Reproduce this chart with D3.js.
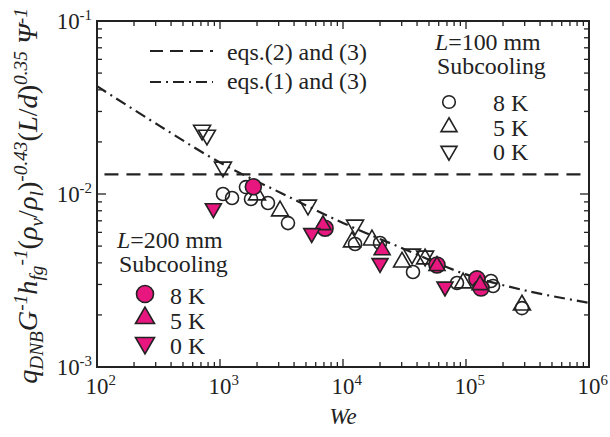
<!DOCTYPE html>
<html lang="en">
<head>
<meta charset="UTF-8">
<title>qDNB vs We</title>
<style>
    body{margin:0;background:#fff;}
    svg{display:block;}
</style>
<script src="https://cdn.jsdelivr.net/npm/d3@7"></script>
</head>
<body>
<script>
// L=100 mm (open symbols), [We, value]
const l100_8K = [[1057,0.0100],[1253,0.00948],[1625,0.01096],[1786,0.00935],[2455,0.00887],[3570,0.00679],
    [12530,0.00514],[20000,0.00521],[37070,0.00354],[84500,0.00306],[159600,0.00314],[166000,0.00294],[285000,0.00219]]
const l100_5K = [[2000,0.00987],[3077,0.00798],[11830,0.00528],[17200,0.00542],[30200,0.00404],[46500,0.00421],
    [94700,0.00306],[285000,0.00228]]
const l100_0K = [[715,0.0234],[783,0.0219],[1057,0.01432],[5190,0.00863],[12530,0.00662],[36400,0.00450],[46500,0.00438]]
// L=200 mm (filled symbols)
const l200_8K = [[1866,0.01101],[7150,0.00634],[58100,0.00389],[122700,0.00323],[132500,0.00286]]
const l200_5K = [[6870,0.00662],[20800,0.00474],[58100,0.00384],[130000,0.00298]]
const l200_0K = [[883,0.00826],[5570,0.00593],[20000,0.00398],[67500,0.00291]]
// eqs.(2) and (3): constant level
const eq23X = [115,1000000]
const eq23Y = 0.013
// eqs.(1) and (3)
const eq13X = [100,316,1000,3162,10000,31623,100000,316228,1000000]
const eq13Y = [0.042,0.025,0.0152,0.0101,0.0068,0.0048,0.00343,0.00275,0.00235]

const width = 610, height = 437
const pink = "#e8177f", ink = "#222"

// pick a Times-like face if there is one, then scale text so widths match the figure
function hasFont(f) {
    const c = document.createElement("canvas").getContext("2d")
    c.font = "40px monospace"
    const a = c.measureText("abcdefghijklmnopqrstuvwxyz0123").width
    c.font = `40px '${f}', monospace`
    return c.measureText("abcdefghijklmnopqrstuvwxyz0123").width !== a
}
const serif = ["Liberation Serif", "Times New Roman", "Tinos", "DejaVu Serif"].find(hasFont) || "serif"
const ctx = document.createElement("canvas").getContext("2d")
ctx.font = `24px '${serif}'`
const F = 140 / ctx.measureText("eqs.(2) and (3)").width
const fs = v => v * F

let svg = d3.select("body").append("svg")
    .attr("width", width).attr("height", height)
    .attr("font-family", `'${serif}', serif`)
    .attr("fill", ink)

const x = d3.scaleLog().domain([1e2,1e6]).range([97,589])
const y = d3.scaleLog().domain([1e-3,1e-1]).range([367,21])
const [xl, xr] = x.range(), [yb, yt] = y.range()

const isMajor = v => Math.abs(Math.log10(v) - Math.round(Math.log10(v))) < 1e-9

// ticks, inward on all four sides
let gTicks = svg.append("g").attr("stroke", ink).attr("stroke-width", 1.3)
x.ticks().forEach(t => {
    const len = isMajor(t) ? 8 : 5
    gTicks.append("line").attr("x1", x(t)).attr("x2", x(t)).attr("y1", yb).attr("y2", yb - len)
    gTicks.append("line").attr("x1", x(t)).attr("x2", x(t)).attr("y1", yt).attr("y2", yt + len)
})
y.ticks().forEach(t => {
    const len = isMajor(t) ? 9 : 5
    gTicks.append("line").attr("y1", y(t)).attr("y2", y(t)).attr("x1", xl).attr("x2", xl + len)
    gTicks.append("line").attr("y1", y(t)).attr("y2", y(t)).attr("x1", xr).attr("x2", xr - len)
})

// tick labels
x.ticks().filter(isMajor).forEach(t => {
    let tx = svg.append("text").attr("x", x(t) - fs(11.5)).attr("y", 394).attr("font-size", fs(23))
    tx.append("tspan").text("10")
    tx.append("tspan").attr("font-size", fs(15)).attr("dy", -9).text(Math.round(Math.log10(t)))
})
y.ticks().filter(isMajor).forEach(t => {
    let tx = svg.append("text").attr("x", 92).attr("y", y(t) + 8).attr("text-anchor", "end")
        .attr("font-size", fs(23))
    tx.append("tspan").text("10")
    tx.append("tspan").attr("font-size", fs(15)).attr("dy", -9).text(Math.round(Math.log10(t)))
})

// reference lines
svg.append("line")
    .attr("x1", x(eq23X[0])).attr("x2", x(eq23X[1]))
    .attr("y1", y(eq23Y)).attr("y2", y(eq23Y))
    .attr("stroke", ink).attr("stroke-width", 2.2).attr("stroke-dasharray", "14,8")

const line = d3.line().x(d => x(d[0])).y(d => y(d[1])).curve(d3.curveCatmullRom)
svg.append("path")
    .datum(eq13X.map((v, i) => [v, eq13Y[i]]))
    .attr("d", line).attr("fill", "none")
    .attr("stroke", ink).attr("stroke-width", 2.2).attr("stroke-dasharray", "11,5,2,5")

// markers
const tri = s => d3.symbol().type(d3.symbolTriangle).size(Math.sqrt(3) / 4 * s * s)()
function drawSet(data, kind, filled) {
    let g = svg.append("g")
        .attr("fill", filled ? pink : "none")
        .attr("stroke", ink).attr("stroke-width", 1.6)
    data.forEach(d => {
        const cx = x(d[0]), cy = y(d[1])
        if (kind === "circle") {
            g.append("circle").attr("cx", cx).attr("cy", cy).attr("r", filled ? 8 : 6.5)
        } else {
            g.append("path").attr("d", tri(filled ? 16 : 17))
                .attr("transform", `translate(${cx},${cy})` + (kind === "down" ? " rotate(180)" : ""))
        }
    })
}
drawSet(l100_8K, "circle", false)
drawSet(l100_5K, "up", false)
drawSet(l100_0K, "down", false)
drawSet(l200_8K, "circle", true)
drawSet(l200_5K, "up", true)
drawSet(l200_0K, "down", true)

// frame
svg.append("rect").attr("x", xl).attr("y", yt).attr("width", xr - xl).attr("height", yb - yt)
    .attr("fill", "none").attr("stroke", ink).attr("stroke-width", 2)

// line legend
svg.append("line").attr("x1", 150).attr("x2", 213).attr("y1", 51).attr("y2", 51)
    .attr("stroke", ink).attr("stroke-width", 2).attr("stroke-dasharray", "13,7")
svg.append("line").attr("x1", 150).attr("x2", 213).attr("y1", 82).attr("y2", 82)
    .attr("stroke", ink).attr("stroke-width", 2).attr("stroke-dasharray", "11,5,2,5")
svg.append("text").attr("x", 227).attr("y", 60).attr("font-size", fs(24)).text("eqs.(2) and (3)")
svg.append("text").attr("x", 227).attr("y", 89).attr("font-size", fs(24)).text("eqs.(1) and (3)")

// symbol legends
function legendBlock(x0, yTitle, label, symX, textX, rows, filled, big) {
    let t = svg.append("text").attr("x", x0).attr("y", yTitle).attr("font-size", fs(24))
    t.append("tspan").attr("font-style", "italic").text("L")
    t.append("tspan").text(label)
    svg.append("text").attr("x", x0 + 2).attr("y", yTitle + 24).attr("font-size", fs(24)).text("Subcooling")
    let g = svg.append("g").attr("fill", filled ? pink : "none").attr("stroke", ink).attr("stroke-width", 1.6)
    rows.forEach(r => {
        if (r.kind === "circle") {
            g.append("circle").attr("cx", symX).attr("cy", r.cy).attr("r", big ? 8.5 : 6.3)
        } else {
            g.append("path").attr("d", tri(big ? 19 : 16))
                .attr("transform", `translate(${symX},${r.cy})` + (r.kind === "down" ? " rotate(180)" : ""))
        }
        svg.append("text").attr("x", textX).attr("y", r.ty).attr("font-size", fs(24)).text(r.text)
    })
}
legendBlock(435, 50, "=100 mm", 449, 493, [
    {kind: "circle", cy: 102, ty: 111, text: "8 K"},
    {kind: "up", cy: 127, ty: 136, text: "5 K"},
    {kind: "down", cy: 151, ty: 160, text: "0 K"}], false, false)
legendBlock(117, 248, "=200 mm", 145, 170, [
    {kind: "circle", cy: 294, ty: 304, text: "8 K"},
    {kind: "up", cy: 318, ty: 329, text: "5 K"},
    {kind: "down", cy: 343, ty: 354, text: "0 K"}], true, true)

// axis titles
svg.append("text").attr("x", 343).attr("y", 424).attr("text-anchor", "middle")
    .attr("font-size", fs(23)).attr("font-style", "italic").text("We")

const yParts = [
    ["q", "it", 0], ["DNB", "it", "sub"], ["G", "it", 0], ["-1", "it", "sup"],
    ["h", "it", 0], ["fg", "it", "sub"], ["-1", "it", "sup"],
    ["(", "", 0], ["ρ", "it", 0], ["v", "it", "sub"], ["/", "", 0], ["ρ", "it", 0], ["l", "it", "sub"], [")", "", 0],
    ["-0.43", "it", "sup"], ["(", "", 0], ["L", "it", 0], ["/", "", 0], ["d", "it", 0], [")", "", 0],
    ["0.35", "it", "sup"], [" Ψ", "it", 0], ["-1", "it", "sup"]
]
let ytl = svg.append("text").attr("text-anchor", "middle").attr("font-size", 22)
    .attr("transform", "translate(37,196) rotate(-90)")
let cur = 0
yParts.forEach(p => {
    const target = p[2] === "sub" ? 5 : p[2] === "sup" ? -8 : 0
    ytl.append("tspan").attr("dy", target - cur)
        .attr("font-style", p[1] === "it" ? "italic" : "normal")
        .attr("font-size", p[2] ? 15 : 22)
        .text(p[0])
    cur = target
})
// fit the long label to the span it takes in the figure
const k = 376 / ytl.node().getComputedTextLength()
ytl.attr("font-size", 22 * k)
ytl.selectAll("tspan").attr("font-size", (d, i) => (yParts[i][2] ? 15 : 22) * k)
    .attr("dy", function () { return +d3.select(this).attr("dy") * k })
</script>
</body>
</html>
